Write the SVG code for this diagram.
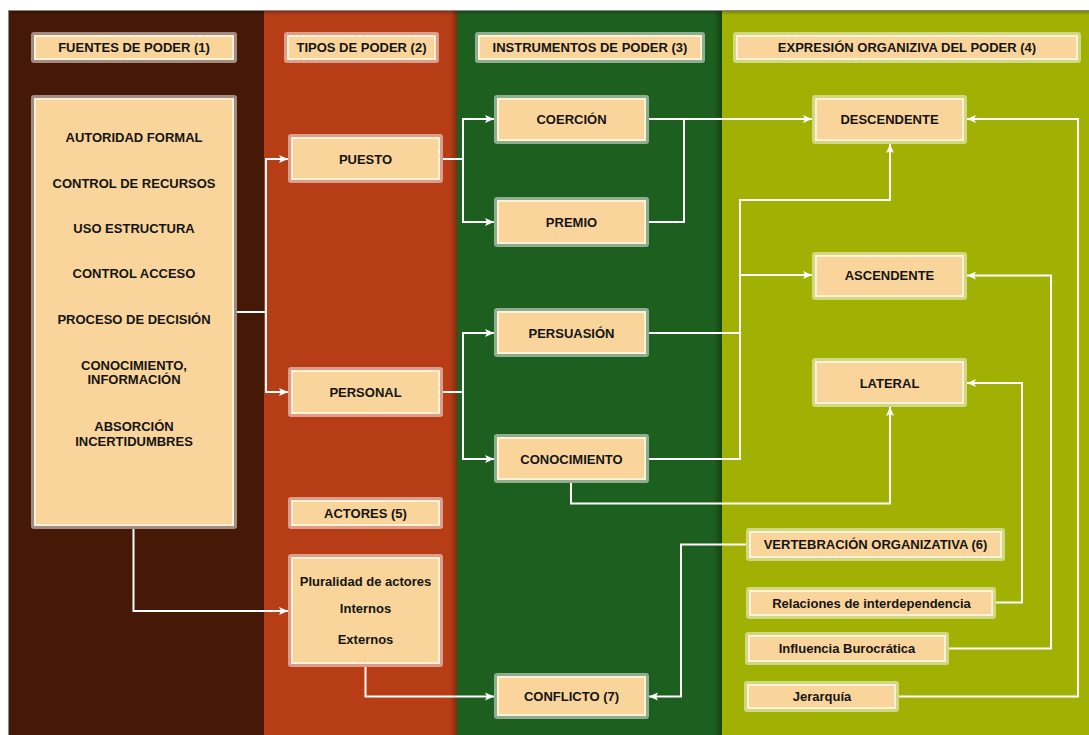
<svg xmlns="http://www.w3.org/2000/svg" width="1089" height="735" viewBox="0 0 1089 735">
<style>
.o{fill:#ffffff;fill-opacity:0.5}
.c{fill:#FFF0D6}
.f{fill:#FAD59B}
text{font-family:"Liberation Sans",Arial,sans-serif;font-weight:bold;font-size:13px;fill:#141414;text-anchor:middle}
.conn path{fill:none;stroke:#ffffff;stroke-width:2}
.arr{marker-end:url(#ah)}
</style>
<defs>
<marker id="ah" markerUnits="userSpaceOnUse" markerWidth="10" markerHeight="10" refX="9" refY="5" orient="auto">
<path d="M0,1 L9,5 L0,9 L2,5 z" fill="#ffffff"/>
</marker>
<linearGradient id="sh" x1="0" y1="0" x2="1" y2="0">
<stop offset="0" stop-color="#000" stop-opacity="0"/>
<stop offset="1" stop-color="#000" stop-opacity="0.3"/>
</linearGradient>
<linearGradient id="shT" x1="0" y1="0" x2="0" y2="1">
<stop offset="0" stop-color="#000" stop-opacity="0.25"/>
<stop offset="1" stop-color="#000" stop-opacity="0"/>
</linearGradient>
</defs>
<rect x="0" y="0" width="1089" height="735" fill="#ffffff"/>
<g id="columns">
<rect x="8" y="10" width="1081" height="725" fill="#8a8a8a"/>
<rect x="9" y="11" width="255" height="724" fill="#451905"/>
<rect x="264" y="11" width="193" height="724" fill="#B73D17"/>
<rect x="457" y="11" width="265" height="724" fill="#1C5F1F"/>
<rect x="722" y="11" width="367" height="724" fill="#A0B103"/>
<rect x="450" y="11" width="7" height="724" fill="url(#sh)"/>
<rect x="714" y="11" width="8" height="724" fill="url(#sh)"/>
<rect x="9" y="11" width="1080" height="4" fill="url(#shT)"/>
</g>
<g class="conn">
<path d="M237,312 H266 V159 H288" class="arr"/>
<path d="M266,312 V392 H288" class="arr"/>
<path d="M133.5,529 V611 H288" class="arr"/>
<path d="M443,159 H463 V119 H494" class="arr"/>
<path d="M463,159 V222 H494" class="arr"/>
<path d="M443,392 H463 V333 H494" class="arr"/>
<path d="M463,392 V459 H494" class="arr"/>
<path d="M649,119 H812" class="arr"/>
<path d="M649,222 H684 V119"/>
<path d="M649,333 H740"/>
<path d="M649,459 H740 V200 H890 V144" class="arr"/>
<path d="M740,275 H812" class="arr"/>
<path d="M571,483 V503.5 H890 V407" class="arr"/>
<path d="M365.5,667 V696.5 H494" class="arr"/>
<path d="M746,544.5 H681 V696.5 H649" class="arr"/>
<path d="M996,602.5 H1022 V383 H967" class="arr"/>
<path d="M949,648.5 H1051 V275.5 H967" class="arr"/>
<path d="M899,696.5 H1078 V119 H967" class="arr"/>
</g>
<g id="n-fuentes"><rect class="o" x="31" y="32" width="206" height="31" rx="3"/><rect class="c" x="34" y="35" width="200" height="25"/><rect class="f" x="36" y="37" width="196" height="21"/><text x="134" y="52">FUENTES DE PODER (1)</text></g>
<g id="n-tipos"><rect class="o" x="284" y="32" width="155" height="31" rx="3"/><rect class="c" x="287" y="35" width="149" height="25"/><rect class="f" x="289" y="37" width="145" height="21"/><text x="361.5" y="52">TIPOS DE PODER (2)</text></g>
<g id="n-instrumentos"><rect class="o" x="475" y="32" width="230" height="31" rx="3"/><rect class="c" x="478" y="35" width="224" height="25"/><rect class="f" x="480" y="37" width="220" height="21"/><text x="590" y="52">INSTRUMENTOS DE PODER (3)</text></g>
<g id="n-expresion"><rect class="o" x="733" y="32" width="348" height="31" rx="3"/><rect class="c" x="736" y="35" width="342" height="25"/><rect class="f" x="738" y="37" width="338" height="21"/><text x="907" y="52">EXPRESIÓN ORGANIZIVA DEL PODER (4)</text></g>
<g id="n-fuentes-lista"><rect class="o" x="31" y="95" width="206" height="434" rx="3"/><rect class="c" x="34" y="98" width="200" height="428"/><rect class="f" x="36" y="100" width="196" height="424"/>
<text x="134" y="141.5">AUTORIDAD FORMAL</text>
<text x="134" y="187.5">CONTROL DE RECURSOS</text>
<text x="134" y="233">USO ESTRUCTURA</text>
<text x="134" y="278">CONTROL ACCESO</text>
<text x="134" y="324">PROCESO DE DECISIÓN</text>
<text x="134" y="369.5">CONOCIMIENTO,</text>
<text x="134" y="384">INFORMACIÓN</text>
<text x="134" y="430.5">ABSORCIÓN</text>
<text x="134" y="445.5">INCERTIDUMBRES</text></g>
<g id="n-puesto"><rect class="o" x="288" y="134" width="155" height="49" rx="3"/><rect class="c" x="291" y="137" width="149" height="43"/><rect class="f" x="293" y="139" width="145" height="39"/><text x="365.5" y="163.5">PUESTO</text></g>
<g id="n-personal"><rect class="o" x="288" y="367" width="155" height="50" rx="3"/><rect class="c" x="291" y="370" width="149" height="44"/><rect class="f" x="293" y="372" width="145" height="40"/><text x="365.5" y="396.5">PERSONAL</text></g>
<g id="n-actores"><rect class="o" x="288" y="497" width="155" height="32" rx="3"/><rect class="c" x="291" y="500" width="149" height="26"/><rect class="f" x="293" y="502" width="145" height="22"/><text x="365.5" y="517.5">ACTORES (5)</text></g>
<g id="n-actores-lista"><rect class="o" x="288" y="554" width="155" height="113" rx="3"/><rect class="c" x="291" y="557" width="149" height="107"/><rect class="f" x="293" y="559" width="145" height="103"/>
<text x="365.5" y="585.5">Pluralidad de actores</text>
<text x="365.5" y="612.5">Internos</text>
<text x="365.5" y="644">Externos</text></g>
<g id="n-coercion"><rect class="o" x="494" y="95" width="155" height="49" rx="3"/><rect class="c" x="497" y="98" width="149" height="43"/><rect class="f" x="499" y="100" width="145" height="39"/><text x="571.5" y="123.5">COERCIÓN</text></g>
<g id="n-premio"><rect class="o" x="494" y="197" width="155" height="50" rx="3"/><rect class="c" x="497" y="200" width="149" height="44"/><rect class="f" x="499" y="202" width="145" height="40"/><text x="571.5" y="226.5">PREMIO</text></g>
<g id="n-persuasion"><rect class="o" x="494" y="308" width="155" height="49" rx="3"/><rect class="c" x="497" y="311" width="149" height="43"/><rect class="f" x="499" y="313" width="145" height="39"/><text x="571.5" y="337.5">PERSUASIÓN</text></g>
<g id="n-conocimiento"><rect class="o" x="494" y="434" width="155" height="49" rx="3"/><rect class="c" x="497" y="437" width="149" height="43"/><rect class="f" x="499" y="439" width="145" height="39"/><text x="571.5" y="463.5">CONOCIMIENTO</text></g>
<g id="n-conflicto"><rect class="o" x="494" y="673" width="155" height="46" rx="3"/><rect class="c" x="497" y="676" width="149" height="40"/><rect class="f" x="499" y="678" width="145" height="36"/><text x="571.5" y="701">CONFLICTO (7)</text></g>
<g id="n-descendente"><rect class="o" x="812" y="95" width="155" height="49" rx="3"/><rect class="c" x="815" y="98" width="149" height="43"/><rect class="f" x="817" y="100" width="145" height="39"/><text x="889.5" y="123.5">DESCENDENTE</text></g>
<g id="n-ascendente"><rect class="o" x="812" y="252" width="155" height="48" rx="3"/><rect class="c" x="815" y="255" width="149" height="42"/><rect class="f" x="817" y="257" width="145" height="38"/><text x="889.5" y="280">ASCENDENTE</text></g>
<g id="n-lateral"><rect class="o" x="812" y="358" width="155" height="49" rx="3"/><rect class="c" x="815" y="361" width="149" height="43"/><rect class="f" x="817" y="363" width="145" height="39"/><text x="889.5" y="387.5">LATERAL</text></g>
<g id="n-vertebracion"><rect class="o" x="746" y="528" width="259" height="33" rx="3"/><rect class="c" x="749" y="531" width="253" height="27"/><rect class="f" x="751" y="533" width="249" height="23"/><text x="875.5" y="549">VERTEBRACIÓN ORGANIZATIVA (6)</text></g>
<g id="n-relaciones"><rect class="o" x="746" y="587" width="250" height="32" rx="3"/><rect class="c" x="749" y="590" width="244" height="26"/><rect class="f" x="751" y="592" width="240" height="22"/><text x="871.5" y="607.5">Relaciones de interdependencia</text></g>
<g id="n-influencia"><rect class="o" x="745" y="632" width="204" height="33" rx="3"/><rect class="c" x="748" y="635" width="198" height="27"/><rect class="f" x="750" y="637" width="194" height="23"/><text x="847" y="653">Influencia Burocrática</text></g>
<g id="n-jerarquia"><rect class="o" x="744" y="681" width="155" height="31" rx="3"/><rect class="c" x="747" y="684" width="149" height="25"/><rect class="f" x="749" y="686" width="145" height="21"/><text x="822" y="701">Jerarquía</text></g>
</svg>
